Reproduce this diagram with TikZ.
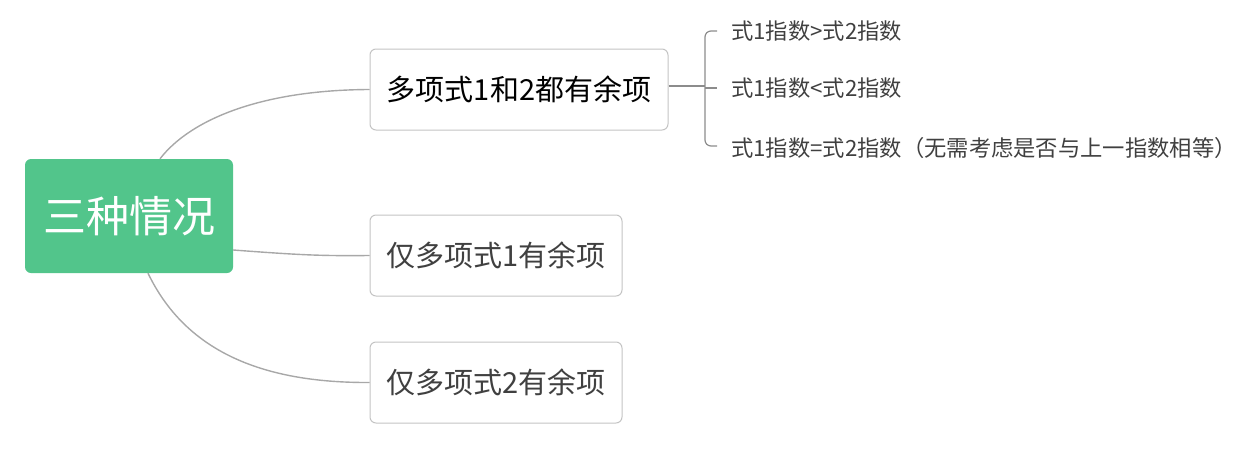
\documentclass[tikz,border=0pt]{standalone}
\usepackage{fontspec}
\setmainfont{Noto Sans CJK SC}
\usetikzlibrary{calc}
\definecolor{rootgreen}{HTML}{52C58B}
\definecolor{boxborder}{HTML}{C4C4C4}
\definecolor{conngray}{HTML}{A8A8A8}
\definecolor{brackgray}{HTML}{8C8C8C}
\definecolor{txtdark}{HTML}{404040}
\tikzset{
  rootbox/.style={fill=rootgreen, draw=none, rounded corners=6pt, text=white,
    font=\fontsize{43}{50}\selectfont, minimum width=208pt, minimum height=114pt, inner sep=0pt},
  subbox/.style={fill=white, draw=boxborder, line width=1pt, rounded corners=6pt,
    font=\fontsize{29}{34}\selectfont, minimum height=81pt, inner sep=0pt},
  leaf/.style={anchor=west, inner sep=0pt, text=txtdark, font=\fontsize{22.3}{26}\selectfont},
  conn/.style={draw=conngray, line width=1.4pt},
  brack/.style={draw=brackgray, line width=1.2pt},
}
\begin{document}
\begin{tikzpicture}[x=1pt,y=-1pt]
\useasboundingbox (0,0) rectangle (1245,450);
\node[rootbox] (root) at (129,216) {三种情况};
\node[subbox, minimum width=298pt, text=black] (b1) at (519,89.5) {多项式1和2都有余项};
\node[subbox, minimum width=252pt, text=txtdark] (b2) at (496,255.5) {仅多项式1有余项};
\node[subbox, minimum width=252pt, text=txtdark] (b3) at (496,382.5) {仅多项式2有余项};
\node[leaf] (l1) at (731,31) {式1指数>式2指数};
\node[leaf] (l2) at (731,88) {式1指数<式2指数};
\node[leaf] (l3) at (731,148) {式1指数=式2指数（无需考虑是否与上一指数相等）};
% connectors root -> boxes
\draw[conn] ($(root.north)+(31,0)$) .. controls (190,120) and (260,90) .. (b1.west);
\draw[conn] ($(root.east)+(0,34)$) .. controls (300,255) and (320,256) .. (b2.west);
\draw[conn] ($(root.south)+(19,0)$) .. controls (185,350) and (260,383) .. (b3.west);
% bracket
\coordinate (j) at (705,86);
\draw[brack] (b1.east |- j) -- (j);
\draw[brack, rounded corners=6pt] ($(l1.west)+(-14,0)$) -| (j) |- ($(l3.west)+(-14,-2)$);
\draw[brack] (j |- l2.west) -- ($(l2.west)+(-14,0)$);
\end{tikzpicture}
\end{document}
